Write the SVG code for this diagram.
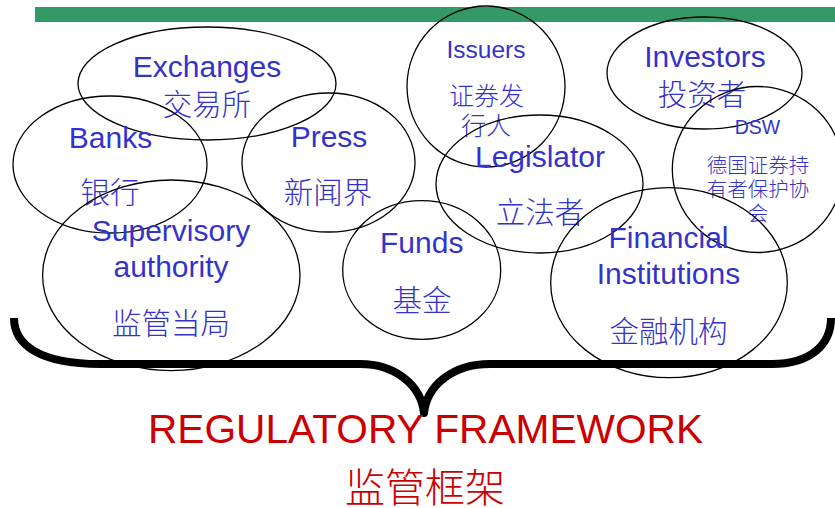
<svg xmlns="http://www.w3.org/2000/svg" width="835" height="508" viewBox="0 0 835 508">
<style>
.e{fill:none;stroke:#000;stroke-width:1.3}
.t{font-family:"Liberation Sans",Arial,sans-serif;fill:#3333CC;text-anchor:middle;font-size:30px}
.c{font-family:"Noto Sans CJK SC",sans-serif;fill:#3333CC;text-anchor:middle;font-size:29.5px;font-weight:300}
.s{font-size:25px}
.d{font-size:20.5px}
.r{fill:#CC0000;text-anchor:middle}
</style>
<rect x="35" y="7" width="800" height="15" fill="#339966"/>
<g id="exchanges"><ellipse class="e" cx="207" cy="83.5" rx="129" ry="56.5"/><text class="t" x="207" y="77">Exchanges</text><text class="c" x="207" y="115">交易所</text></g>
<g id="banks"><ellipse class="e" cx="110" cy="164.5" rx="97" ry="68.5"/><text class="t" x="110.5" y="148">Banks</text><text class="c" x="110" y="203">银行</text></g>
<g id="press"><ellipse class="e" cx="328.5" cy="162.5" rx="86.5" ry="69.5"/><text class="t" x="329" y="147">Press</text><text class="c" x="328" y="203">新闻界</text></g>
<g id="supervisory"><ellipse class="e" cx="171.3" cy="275.3" rx="128.7" ry="95.3"/><text class="t" x="171" y="241">Supervisory</text><text class="t" x="171" y="277">authority</text><text class="c" x="171" y="334">监管当局</text></g>
<g id="funds"><ellipse class="e" cx="421.7" cy="270" rx="79" ry="69.3"/><text class="t" x="421.7" y="253">Funds</text><text class="c" x="422" y="311">基金</text></g>
<g id="issuers"><ellipse class="e" cx="486" cy="86.5" rx="79" ry="80.5"/><text class="t" x="486" y="58" style="font-size:24.5px">Issuers</text><text class="c s" x="486.5" y="104.5">证券发</text><text class="c s" x="486" y="135">行人</text></g>
<g id="legislator"><ellipse class="e" cx="539.5" cy="184" rx="103.5" ry="69"/><text class="t" x="540" y="167">Legislator</text><text class="c" x="540" y="223">立法者</text></g>
<g id="investors"><ellipse class="e" cx="704.5" cy="73" rx="97.5" ry="56"/><text class="t" x="705" y="67">Investors</text><text class="c" x="702" y="105">投资者</text></g>
<g id="dsw"><ellipse class="e" cx="757.5" cy="169.5" rx="85.2" ry="83"/><text class="t" x="757.5" y="134.3" style="font-size:19.5px">DSW</text><text class="c d" x="758" y="173">德国证券持</text><text class="c d" x="758" y="197">有者保护协</text><text class="c d" x="758" y="220.5">会</text></g>
<g id="financial"><ellipse class="e" cx="669" cy="282.7" rx="118.3" ry="95"/><text class="t" x="668.5" y="248">Financial</text><text class="t" x="668.5" y="284">Institutions</text><text class="c" x="668.5" y="342">金融机构</text></g>
<g id="connectors"><path d="M14,318 C14,345 40,364 100,364 L360,364 C395,364 421,385 424,413 C427,385 453,364 490,364 L772,364 C810,364 831,345 831,318" fill="none" stroke="#000" stroke-width="8" stroke-linejoin="round"/></g>
<g id="framework"><text class="t r" x="425.5" y="443" style="font-size:40.5px" textLength="555" lengthAdjust="spacingAndGlyphs">REGULATORY FRAMEWORK</text><text class="c r" x="425" y="502" style="font-size:40px">监管框架</text></g>
</svg>
